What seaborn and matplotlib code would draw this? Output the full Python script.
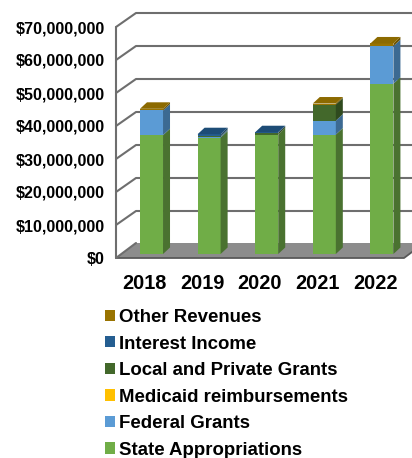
import matplotlib
matplotlib.use("Agg")
import matplotlib.pyplot as plt
import numpy as np
import seaborn as sns
from matplotlib.patches import Polygon
from matplotlib.transforms import Affine2D, IdentityTransform

years = ["2018", "2019", "2020", "2021", "2022"]
state_approps = [36.0, 35.3, 36.2, 36.2, 51.6]
federal_grants = [7.5, 0.3, 0.0, 4.2, 11.4]
medicaid = [0.0, 0.0, 0.0, 0.0, 0.0]
local_grants = [0.0, 0.2, 0.5, 4.9, 0.0]
interest_income = [0.0, 0.5, 0.2, 0.0, 0.0]
other_revenues = [0.5, 0.0, 0.0, 0.3, 0.8]
y_ticks = [0, 10, 20, 30, 40, 50, 60, 70]
y_labels = ["$0", "$10,000,000", "$20,000,000", "$30,000,000", "$40,000,000",
            "$50,000,000", "$60,000,000", "$70,000,000"]

# name, values, front colour, side colour, cap colour
series = [
    ("State Appropriations", state_approps, "#70AD47", "#4A7230", "#70AD47"),
    ("Federal Grants", federal_grants, "#5B9BD5", "#3C6A92", "#5B9BD5"),
    ("Medicaid reimbursements", medicaid, "#FFC000", "#A67C00", "#FFC000"),
    ("Local and Private Grants", local_grants, "#43682B", "#2F4A1E", "#38581F"),
    ("Interest Income", interest_income, "#255E91", "#1B4468", "#1D4C76"),
    ("Other Revenues", other_revenues, "#997300", "#6E5300", "#8C6A00"),
]

sns.set_style("white")
plt.rcParams["font.family"] = ["Liberation Sans", "DejaVu Sans"]
plt.rcParams["font.weight"] = "bold"
plt.rcParams["text.color"] = "black"
plt.rcParams["xtick.color"] = "black"
plt.rcParams["ytick.color"] = "black"

W, H = 412, 458
fig = plt.figure(figsize=(W / 100, H / 100), dpi=100)
# front plane of the fake 3D box
ax = fig.add_axes([116 / W, (H - 258) / H, 288 / W, 231 / H])
ax.patch.set_alpha(0)

DEPTH_X, DEPTH_Y = 20, 15      # box depth in pixels
BAR_DX, BAR_DY = 6.7, 4        # bars stand inside the box
SIDE_X, SIDE_Y = 7, 6.5        # bar depth in pixels

# stacked front faces
bottom = np.zeros(len(years))
layers = []
for name, vals, front, side, cap in series:
    sns.barplot(x=years, y=vals, bottom=bottom, color=front, saturation=1,
                width=0.4, label=name, ax=ax, zorder=3, linewidth=0)
    layers.append((ax.containers[-1], side, cap))
    bottom = bottom + np.array(vals)

ax.set_xlim(-0.5, 4.5)
ax.set_ylim(0, 70)
ax.set_yticks(y_ticks)
ax.set_yticklabels(y_labels, fontsize=11.6, fontweight="bold")
ax.tick_params(axis="y", length=0, pad=8.2)
ax.tick_params(axis="x", length=0, pad=11.5, labelsize=14.4)
ax.set_xlabel("")
ax.set_ylabel("")
ax.grid(False)
sns.despine(ax=ax, left=True, bottom=True, top=True, right=True)

# walls and floor, in axes-x / data-y
wall = ax.get_yaxis_transform()
dx = DEPTH_X / 288
to_data = 70 / 231
floor_y = DEPTH_Y * to_data
floor = Polygon([(0, 0), (dx, floor_y), (1 + dx, floor_y), (1, 0)], closed=True,
                facecolor="#8C8C8C", edgecolor="none", transform=wall, clip_on=False, zorder=1)
ax.add_patch(floor)
ax.plot([0, 1, 1 + dx], [0, 0, floor_y], color="#595959", lw=1.3, transform=wall, clip_on=False, zorder=1.5)
ax.plot([0, 0], [0, 70], color="#6E6E6E", lw=1.5, transform=wall, clip_on=False, zorder=1.5)
for tick in y_ticks[1:]:
    ax.plot([0, dx, 1 + dx], [tick, tick + 14 * to_data, tick + 14 * to_data],
            color="#6E6E6E", lw=1.5, transform=wall, clip_on=False, zorder=1.5)
ax.plot([0, dx], [0, floor_y], color="#6E6E6E", lw=1.5, transform=wall, clip_on=False, zorder=1.5)

# shift the bars back into the box, then add side faces and caps
shift = ax.transData + Affine2D().translate(BAR_DX, BAR_DY)
tops = {}
for container, side, cap in layers:
    for i, rect in enumerate(container.patches):
        rect.set_transform(shift)
        if rect.get_height() <= 0:
            continue
        x0, y0 = rect.get_x(), rect.get_y()
        x1, y1 = x0 + rect.get_width(), y0 + rect.get_height()
        (ax0, ay0), (ax1, ay1) = shift.transform([(x0, y0), (x1, y1)])
        ax.add_patch(Polygon([(ax1, ay0), (ax1 + SIDE_X, ay0 + SIDE_Y),
                              (ax1 + SIDE_X, ay1 + SIDE_Y), (ax1, ay1)], closed=True,
                             facecolor=side, edgecolor="none",
                             transform=IdentityTransform(), clip_on=False, zorder=3))
        tops[i] = (ax0, ax1, ay1, cap)
for ax0, ax1, ay1, cap in tops.values():
    ax.add_patch(Polygon([(ax0, ay1), (ax1, ay1), (ax1 + SIDE_X, ay1 + SIDE_Y),
                          (ax0 + SIDE_X, ay1 + SIDE_Y)], closed=True,
                         facecolor=cap, edgecolor="none",
                         transform=IdentityTransform(), clip_on=False, zorder=3.5))

# legend, top series first (seaborn adds its own on the axes, drop that one)
handles, labels = ax.get_legend_handles_labels()
if ax.get_legend() is not None:
    ax.get_legend().remove()
fig.legend(handles[::-1], labels[::-1], loc="upper left",
           bbox_to_anchor=(105 / W, (H - 309) / H), frameon=False,
           prop={"size": 13.45, "weight": "bold"},
           handlelength=0.54, handleheight=0.54, handletextpad=0.22,
           labelspacing=0.51, borderpad=0, borderaxespad=0)

fig.savefig("out.png", dpi=100)
